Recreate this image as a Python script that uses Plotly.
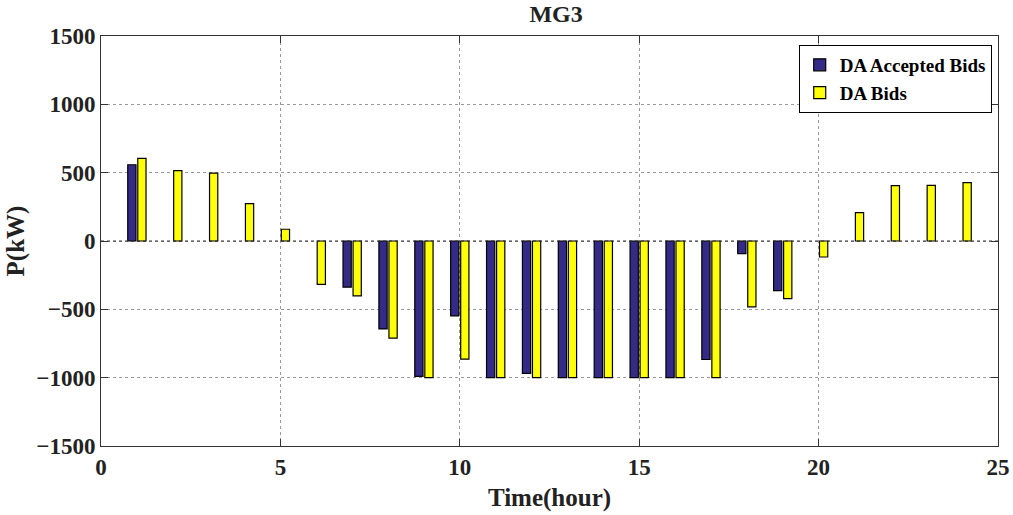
import plotly.graph_objects as go

hours = list(range(1, 25))
accepted = [558, 0, 0, 0, 0, 0, -338, -643, -991, -548, -1000, -969,
            -1000, -1000, -1000, -1000, -867, -92, -363, 0, 0, 0, 0, 0]
bids = [605, 515, 497, 273, 86, -317, -402, -711, -1000, -865, -1000, -1000,
        -1000, -1000, -1000, -1000, -1000, -482, -421, -117, 208, 405, 407, 427]

font_family = "Liberation Serif"

# hide outline on zero-height bars (MATLAB draws nothing visible there)
acc_lw = [0 if v == 0 else 1.2 for v in accepted]
bid_lw = [0 if v == 0 else 1.2 for v in bids]

fig = go.Figure()
fig.add_trace(go.Bar(x=hours, y=accepted, name="DA Accepted Bids",
                     marker=dict(color="#332B86", line=dict(color="black", width=acc_lw))))
fig.add_trace(go.Bar(x=hours, y=bids, name="DA Bids",
                     marker=dict(color="#FFFF0A", line=dict(color="black", width=bid_lw))))

axis_common = dict(
    showline=True, linecolor="#333333", linewidth=1, mirror="ticks",
    ticks="inside", ticklen=7, tickcolor="#333333",
    showgrid=True, gridcolor="#9a9a9a", griddash="dot", gridwidth=1,
    zeroline=False, automargin=False,
    tickfont=dict(family=font_family, size=23, color="#222222", weight="bold"),
)

fig.update_layout(
    width=1013, height=515,
    margin=dict(l=101, r=15, t=36, b=69),
    paper_bgcolor="white", plot_bgcolor="white",
    barmode="group", bargap=0.44, bargroupgap=0.18,
    title=dict(text="MG3", x=0.549, xanchor="center", y=0.99, yanchor="top",
               font=dict(family=font_family, size=24, color="#222222", weight="bold")),
    font=dict(family=font_family, color="#222222"),
    showlegend=True,
    legend=dict(x=0.993, xanchor="right", y=0.978, yanchor="top",
                bgcolor="white", bordercolor="black", borderwidth=1,
                font=dict(family=font_family, size=19, color="black", weight="bold"),
                tracegroupgap=0, itemwidth=30),
)
fig.update_xaxes(range=[0, 25], tickvals=[0, 5, 10, 15, 20, 25],
                 title=dict(text="Time(hour)", standoff=9,
                            font=dict(family=font_family, size=25, color="#222222", weight="bold")),
                 **axis_common)
fig.update_yaxes(range=[-1500, 1500], tickvals=[-1500, -1000, -500, 0, 500, 1000, 1500],
                 title=dict(text="P(kW)", standoff=4,
                            font=dict(family=font_family, size=25, color="#222222", weight="bold")),
                 **axis_common)

# zero baseline
fig.add_hline(y=0, line=dict(color="#333333", width=1, dash="dot"))

fig.write_html("out.html")
